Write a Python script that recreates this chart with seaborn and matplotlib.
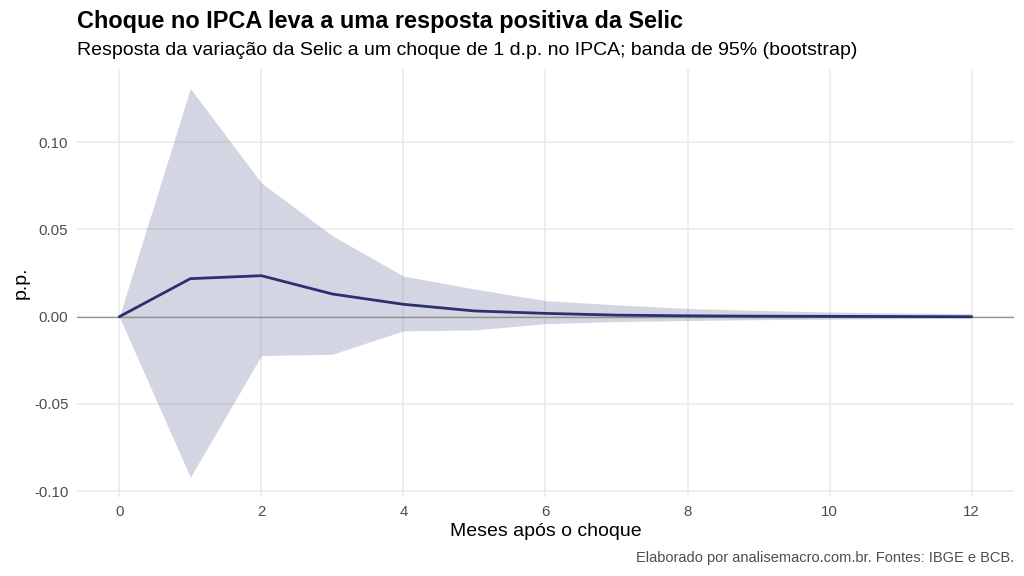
import matplotlib
matplotlib.use("Agg")
import matplotlib.pyplot as plt
import seaborn as sns
import pandas as pd
import numpy as np

horizon = [0, 1, 2, 3, 4, 5, 6, 7, 8, 9, 10, 11, 12]
irf = [0.0, 0.0218, 0.0235, 0.0130, 0.0071, 0.0033, 0.0019, 0.0009, 0.0005, 0.0003, 0.0002, 0.0001, 0.0000]
upper = [0.0, 0.1308, 0.0767, 0.0464, 0.0233, 0.0159, 0.0092, 0.0068, 0.0047, 0.0036, 0.0027, 0.0021, 0.0017]
lower = [0.0, -0.0920, -0.0223, -0.0215, -0.0081, -0.0076, -0.0040, -0.0028, -0.0022, -0.0017, -0.0014, -0.0011, -0.0009]
yticks = [-0.10, -0.05, 0.00, 0.05, 0.10]
xticks = [0, 2, 4, 6, 8, 10, 12]

title = "Choque no IPCA leva a uma resposta positiva da Selic"
subtitle = "Resposta da variação da Selic a um choque de 1 d.p. no IPCA; banda de 95% (bootstrap)"
caption = "Elaborado por analisemacro.com.br. Fontes: IBGE e BCB."

df = pd.DataFrame({"h": horizon, "irf": irf, "upper": upper, "lower": lower})

sns.set_theme(style="whitegrid")
plt.rcParams["font.family"] = ["Liberation Sans", "DejaVu Sans"]

fig = plt.figure(figsize=(10.24, 5.76), dpi=100)
ax = fig.add_axes([0.0749, 0.1377, 0.9156, 0.7425])

line_color = "#2b3070"
ax.fill_between(df["h"], df["lower"], df["upper"], color=line_color, alpha=0.2, linewidth=0, zorder=2)
ax.axhline(0, color="#8c8c8c", linewidth=1.0, alpha=0.9, zorder=3)
sns.lineplot(data=df, x="h", y="irf", ax=ax, color=line_color, linewidth=2.0, zorder=4)

span_y = max(upper) - min(lower)
ax.set_ylim(min(lower) - 0.05 * span_y, max(upper) + 0.05 * span_y)
ax.set_xlim(-0.6, 12.6)
ax.set_xticks(xticks)
ax.set_xticklabels([str(x) for x in xticks])
ax.set_yticks(yticks)
ax.set_yticklabels([f"{v:.2f}" for v in yticks])

ax.set_facecolor("white")
for s in ax.spines.values():
    s.set_visible(False)
ax.grid(True, color="#ebebeb", linewidth=1.2)
ax.tick_params(axis="both", length=0, labelsize=10.8, labelcolor="#4d4d4d", pad=6)

ax.set_xlabel("Meses após o choque", fontsize=14, color="black", labelpad=3)
ax.set_ylabel("p.p.", fontsize=14, color="black", labelpad=3)

fig.text(0.0752, 0.952, title, fontsize=16.9, fontweight="bold", color="black", ha="left", va="baseline")
fig.text(0.0752, 0.905, subtitle, fontsize=14.0, color="black", ha="left", va="baseline")
fig.text(0.9905, 0.025, caption, fontsize=10.5, color="#4d4d4d", ha="right", va="baseline")

fig.savefig("out.png", dpi=100)
